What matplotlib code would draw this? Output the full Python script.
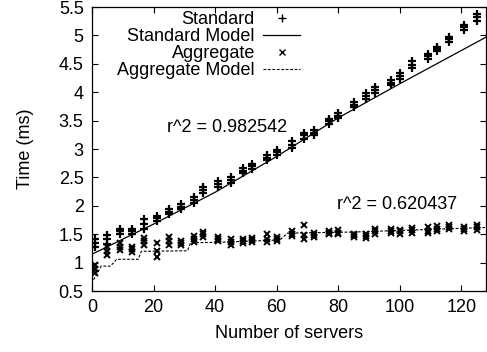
import numpy as np
import matplotlib
matplotlib.use("Agg")
import matplotlib.pyplot as plt

plt.rcParams['font.family'] = ['Liberation Sans', 'DejaVu Sans']
plt.rcParams['font.size'] = 13

# server counts used for both runs
servers = [1, 5, 9, 13, 17, 21, 25, 29, 33, 36, 41, 45, 49, 52, 57, 60,
           65, 69, 72, 77, 80, 85, 89, 92, 97, 100, 104, 109, 112, 116, 121, 125]

# repeated measurements (ms), three per server count
standard = [
    [1.27, 1.34, 1.42], [1.33, 1.41, 1.48], [1.50, 1.55, 1.60], [1.50, 1.55, 1.59],
    [1.60, 1.68, 1.77], [1.73, 1.78, 1.83], [1.85, 1.89, 1.94], [1.94, 1.98, 2.03],
    [2.05, 2.10, 2.15], [2.22, 2.28, 2.33], [2.34, 2.39, 2.44], [2.40, 2.45, 2.50],
    [2.58, 2.62, 2.66], [2.65, 2.70, 2.74], [2.80, 2.85, 2.89], [2.90, 2.94, 2.98],
    [3.02, 3.08, 3.14], [3.18, 3.24, 3.28], [3.25, 3.29, 3.33], [3.44, 3.49, 3.53],
    [3.54, 3.59, 3.64], [3.74, 3.78, 3.82], [3.88, 3.93, 3.98], [3.99, 4.04, 4.09],
    [4.13, 4.17, 4.21], [4.24, 4.29, 4.34], [4.42, 4.48, 4.55], [4.59, 4.63, 4.67],
    [4.72, 4.76, 4.80], [4.89, 4.93, 4.97], [5.10, 5.14, 5.18], [5.26, 5.32, 5.38],
]
aggregate = [
    [0.82, 0.89, 0.96], [1.14, 1.21, 1.28], [1.22, 1.28, 1.34], [1.19, 1.24, 1.28],
    [1.32, 1.38, 1.43], [1.10, 1.20, 1.34], [1.31, 1.38, 1.45], [1.31, 1.35, 1.39],
    [1.36, 1.41, 1.47], [1.46, 1.50, 1.54], [1.38, 1.42, 1.46], [1.32, 1.37, 1.42],
    [1.35, 1.38, 1.41], [1.37, 1.40, 1.43], [1.37, 1.42, 1.50], [1.38, 1.42, 1.46],
    [1.47, 1.51, 1.55], [1.42, 1.48, 1.66], [1.45, 1.48, 1.52], [1.50, 1.53, 1.56],
    [1.50, 1.53, 1.57], [1.45, 1.48, 1.51], [1.43, 1.47, 1.50], [1.50, 1.55, 1.60],
    [1.53, 1.56, 1.59], [1.51, 1.55, 1.58], [1.53, 1.57, 1.61], [1.52, 1.56, 1.63],
    [1.55, 1.60, 1.65], [1.59, 1.63, 1.66], [1.56, 1.59, 1.62], [1.58, 1.62, 1.67],
]

# model curves
std_model_x = [0, 20, 40, 60, 80, 100, 128]
std_model_y = [1.15, 1.68, 2.24, 2.87, 3.55, 4.15, 4.97]
agg_model_x = [0.5, 3, 6, 8, 15, 16, 31, 32, 42, 61, 63.5, 85, 128]
agg_model_y = [0.70, 0.94, 0.94, 1.06, 1.06, 1.20, 1.21, 1.35, 1.36, 1.40, 1.52, 1.54, 1.62]

r2_std = "r^2 = 0.982542"
r2_agg = "r^2 = 0.620437"

fig = plt.figure(figsize=(4.87, 3.52), dpi=100)
ax = fig.add_axes([0.189, 0.173, 0.809, 0.807])

sx = np.repeat(servers, 3)
ax.plot(sx, np.ravel(standard), linestyle='none', marker='+', ms=5.5, mew=1.6,
        color='black', label='Standard')
ax.plot(std_model_x, std_model_y, color='black', lw=0.9, label='Standard Model')
ax.plot(sx, np.ravel(aggregate), linestyle='none', marker='x', ms=4.5, mew=1.4,
        color='black', label='Aggregate')
ax.plot(agg_model_x, agg_model_y, color='black', lw=0.8, dashes=(2.5, 1.5),
        label='Aggregate Model')

ax.text(24.5, 3.38, r2_std, va='center', ha='left')
ax.text(79.5, 2.03, r2_agg, va='center', ha='left')

ax.set_xlim(0, 128)
ax.set_ylim(0.5, 5.5)
ax.set_xticks(range(0, 121, 20))
ax.set_yticks(np.arange(0.5, 5.51, 0.5))
ax.set_yticklabels(['0.5', '1', '1.5', '2', '2.5', '3', '3.5', '4', '4.5', '5', '5.5'])
ax.tick_params(direction='in', length=4, width=0.8, top=True, right=True, pad=6)
for s in ax.spines.values():
    s.set_linewidth(0.9)

ax.set_xlabel('Number of servers', labelpad=6)
ax.set_ylabel('Time (ms)', labelpad=18)

leg = ax.legend(loc='upper right', bbox_to_anchor=(0.528, 0.985), frameon=False,
                markerfirst=False, numpoints=1, handlelength=2.05, handletextpad=0.45,
                labelspacing=0.0, borderpad=0.0, borderaxespad=0)
for h in leg.legend_handles:
    h.set_markeredgewidth(1.0)

fig.savefig('out.png', dpi=100)
